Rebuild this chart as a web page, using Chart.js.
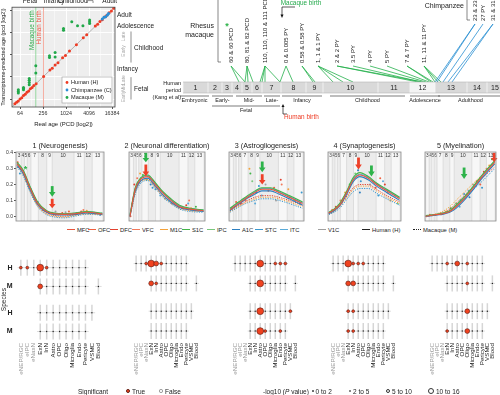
<!DOCTYPE html>
<html>
<head>
<meta charset="utf-8">
<title>Developmental age and trajectories</title>
<script src="https://cdn.jsdelivr.net/npm/chart.js@4.4.1/dist/chart.umd.min.js"></script>
<style>
  html, body { margin: 0; padding: 0; background: #fff; }
  body { position: relative; width: 500px; height: 395px; overflow: hidden; font-family: 'Liberation Sans', Arial, sans-serif; color: #222; }
  canvas { position: absolute; }
  .lbl { position: absolute; white-space: nowrap; line-height: 7px; }
  .key { position: absolute; height: 0; }
  .dot { position: absolute; border-radius: 50%; box-sizing: border-box; }
</style>
</head>
<body>
<script>
const FONT = "'Liberation Sans', Arial, sans-serif";
Chart.defaults.font.family = FONT;
Chart.defaults.color = '#222';
Chart.defaults.animation = false;
Chart.defaults.responsive = false;
Chart.defaults.plugins.legend.display = false;
Chart.defaults.plugins.tooltip.enabled = false;

// ---------- A: real age vs transcriptome-predicted age (log2 PCD)
const humanAge  = [5.55, 5.7, 5.85, 6.0, 6.15, 6.3, 6.45, 6.6, 6.75, 6.9, 7.05, 7.2, 7.4, 8.05, 8.6, 8.8, 9.05, 9.3, 9.7, 9.95, 10.3, 10.9, 11.5, 11.8, 12.55, 12.75, 12.95, 13.15, 13.35, 13.55, 13.75, 13.95, 14.15];
const humanPred = [5.6, 5.72, 5.83, 6.02, 6.14, 6.33, 6.44, 6.62, 6.74, 6.93, 7.04, 7.22, 7.38, 8.04, 8.62, 8.78, 9.07, 9.28, 9.72, 9.93, 10.32, 10.88, 11.52, 11.78, 12.57, 12.73, 12.97, 13.13, 13.37, 13.53, 13.77, 13.93, 14.17];
const chimpAge  = [13.15, 13.3, 13.45, 13.6, 13.7];
const chimpPred = [13.2, 13.35, 13.4, 13.55, 13.7];
const macaqueAge  = [5.85, 5.85, 5.85, 6.3, 6.3, 6.3, 6.8, 6.8, 6.8, 6.8, 7.37, 7.37, 8.56, 8.56, 9.05, 9.05, 9.78, 9.78, 10.5, 11.0, 11.47, 12.05, 12.05, 12.05];
const macaquePred = [6.55, 6.7, 6.85, 6.85, 6.95, 7.05, 7.3, 7.5, 7.7, 7.85, 8.35, 9.0, 9.75, 9.9, 9.8, 10.2, 12.2, 12.35, 12.95, 12.6, 12.6, 12.8, 12.95, 13.1];
const ageTicks = [6, 7, 8, 9, 10, 11, 12, 13, 14];
const AGE_LO = 5.3, AGE_HI = 14.26;
const macaqueBirth = 7.37, humanBirth = 8.04;
const topStages = ['Fetal', 'Infancy', 'Childhood', 'Adult'];
const topStageAt = [6.87, 8.96, 10.6, 13.8];
const sideStages = ['Adult', 'Adolescence', 'Infancy'];
const sideStageAt = [13.56, 12.51, 8.68];
const bracketStages = ['Childhood', 'Fetal'];
const bracketAt = [10.59, 6.93];
const bracketSpan = [[9.29, 12.08], [5.97, 7.98]];
const subStages = ['Late', 'Early', 'Late', 'Mid', 'Early'];
const subStageAt = [11.64, 10.33, 7.72, 7.02, 6.24];

// ---------- B: sample timeline (units along the human period bar)
const periodEdges = [0, 25, 39, 49, 59, 69, 79, 98, 123, 140, 195, 227, 252, 284, 304, 320];
const stageNames = ['Embryonic', 'Early-', 'Mid-', 'Late-', 'Infancy', 'Childhood', 'Adolescence', 'Adulthood'];
const stageFrom  = [-3, 29, 53, 81, 99, 147, 227, 255];
const stageTo    = [26, 50, 79, 97, 139, 222, 257, 320];
const macaqueSamples = ['60 & 60 PCD', '80, 81 & 82 PCD', '110, 110, 110 & 111 PCD', '0 & 0.005 PY', '0.58 & 0.58 PY', '1, 1 & 1 PY', '2 & 2 PY', '3.5 PY', '4 PY', '5 PY', '7 & 7 PY', '11, 11 & 11 PY'];
const macaqueSampleAt = [48, 64, 82, 103, 119, 135, 154, 170, 187, 204, 224, 241];
const macaqueTargets = [[56, 62], [62, 65, 70], [77, 79, 82, 97], [97, 110], [130, 132], [150, 160, 170], [235, 240], [238], [243], [246], [248, 250], [252, 255, 258]];
const chimpSamples = ['23 & 23 PY', '27 PY', '31 & 31 PY'];
const chimpSampleAt = [292, 300, 310];
const chimpTargets = [[252, 254], [260], [265, 269]];

// ---------- C: trajectories of five processes (log2 PCD vs score)
const regionNames  = ['MFC', 'OFC', 'DFC', 'VFC', 'M1C', 'S1C', 'IPC', 'A1C', 'STC', 'ITC', 'V1C'];
const regionColors = ['#e8553c', '#f0603e', '#e2412f', '#f27a5c', '#f4a23a', '#43b549', '#79c77c', '#2c7fc0', '#3a98ce', '#5aaad8', '#a0a0a0'];
const periodBounds = [6.13, 6.51, 6.81, 7.06, 7.39, 8.06, 8.81, 9.30, 11.26, 12.18, 12.89, 13.86];
const periodNames = ['3', '4', '5', '6', '7', '8', '9', '10', '11', '12', '13'];
const ageGrid = [6.15, 6.7, 7.3, 8.0, 8.8, 9.5, 10.4, 11.3, 12.4, 13.8];
const panelTitles = ['1 (Neurogenesis)', '2 (Neuronal differentiation)', '3 (Astrogliogenesis)', '4 (Synaptogenesis)', '5 (Myelination)'];
const humanLineRegion = [0, 5, 7, 9];
const macaqueLineRegion = [4, 2, 8];

const neuroH = [
  [0.33, 0.28, 0.18, 0.08, 0.03, 0.015, 0.012, 0.015, 0.025, 0.015],
  [0.34, 0.29, 0.19, 0.09, 0.035, 0.02, 0.016, 0.02, 0.03, 0.02],
  [0.32, 0.27, 0.17, 0.075, 0.025, 0.01, 0.008, 0.01, 0.02, 0.012],
  [0.335, 0.285, 0.185, 0.085, 0.032, 0.018, 0.014, 0.018, 0.028, 0.018]];
const neuroM = [
  [0.32, 0.26, 0.16, 0.065, 0.015, 0.0, -0.005, 0.005, 0.015, 0.01],
  [0.33, 0.27, 0.17, 0.07, 0.02, 0.005, 0.0, 0.01, 0.02, 0.012],
  [0.31, 0.255, 0.155, 0.06, 0.01, -0.005, -0.01, 0.0, 0.012, 0.008]];
const diffH = [
  [0.0, 0.17, 0.235, 0.25, 0.2, 0.15, 0.1, 0.06, 0.045, 0.035],
  [0.01, 0.18, 0.245, 0.26, 0.21, 0.16, 0.11, 0.07, 0.05, 0.04],
  [0.0, 0.16, 0.225, 0.24, 0.19, 0.14, 0.09, 0.055, 0.04, 0.03],
  [0.005, 0.175, 0.24, 0.255, 0.205, 0.155, 0.105, 0.065, 0.048, 0.038]];
const diffM = [
  [0.0, 0.15, 0.22, 0.23, 0.18, 0.13, 0.085, 0.05, 0.035, 0.03],
  [0.005, 0.16, 0.225, 0.235, 0.185, 0.135, 0.09, 0.055, 0.04, 0.032],
  [0.0, 0.14, 0.21, 0.225, 0.175, 0.125, 0.08, 0.045, 0.03, 0.025]];
const astroH = [
  [0.04, 0.065, 0.09, 0.12, 0.15, 0.17, 0.17, 0.15, 0.12, 0.08],
  [0.05, 0.075, 0.1, 0.13, 0.16, 0.18, 0.18, 0.16, 0.13, 0.09],
  [0.035, 0.06, 0.085, 0.115, 0.14, 0.16, 0.16, 0.14, 0.11, 0.07],
  [0.045, 0.07, 0.095, 0.125, 0.155, 0.175, 0.175, 0.155, 0.125, 0.085]];
const astroM = [
  [0.03, 0.05, 0.07, 0.09, 0.11, 0.12, 0.12, 0.11, 0.09, 0.06],
  [0.035, 0.055, 0.075, 0.1, 0.12, 0.13, 0.13, 0.12, 0.1, 0.07],
  [0.025, 0.045, 0.065, 0.085, 0.1, 0.11, 0.11, 0.1, 0.08, 0.05]];
const synH = [
  [0.02, 0.04, 0.07, 0.14, 0.23, 0.26, 0.24, 0.2, 0.16, 0.11],
  [0.025, 0.045, 0.08, 0.15, 0.245, 0.275, 0.25, 0.21, 0.17, 0.12],
  [0.015, 0.035, 0.065, 0.13, 0.22, 0.25, 0.23, 0.19, 0.15, 0.1],
  [0.02, 0.04, 0.075, 0.145, 0.235, 0.265, 0.245, 0.205, 0.165, 0.115]];
const synM = [
  [0.015, 0.03, 0.06, 0.11, 0.17, 0.19, 0.19, 0.16, 0.12, 0.08],
  [0.02, 0.035, 0.065, 0.12, 0.18, 0.2, 0.2, 0.17, 0.13, 0.09],
  [0.01, 0.025, 0.05, 0.1, 0.155, 0.175, 0.175, 0.145, 0.11, 0.07]];
const myelH = [
  [0.0, 0.005, 0.01, 0.015, 0.03, 0.06, 0.11, 0.17, 0.25, 0.34],
  [0.005, 0.008, 0.012, 0.02, 0.035, 0.07, 0.12, 0.18, 0.26, 0.35],
  [0.0, 0.003, 0.008, 0.012, 0.025, 0.05, 0.1, 0.16, 0.24, 0.33],
  [0.002, 0.006, 0.01, 0.018, 0.032, 0.065, 0.115, 0.175, 0.255, 0.345]];
const myelM = [
  [0.0, 0.005, 0.015, 0.03, 0.06, 0.1, 0.15, 0.2, 0.26, 0.33],
  [0.0, 0.004, 0.01, 0.02, 0.045, 0.08, 0.13, 0.18, 0.24, 0.31],
  [0.0, 0.003, 0.008, 0.015, 0.035, 0.07, 0.11, 0.16, 0.22, 0.3]];

const neuroPts = [[6.2, 0.34], [6.3, 0.31], [6.5, 0.3], [6.8, 0.26], [7.0, 0.22], [7.2, 0.2], [7.6, 0.12], [8.0, 0.09], [8.5, 0.04], [9.0, 0.02], [9.6, 0.03], [10.2, 0.02], [10.8, 0.03], [11.5, 0.02], [12.1, 0.04], [12.4, 0.035], [12.6, 0.02], [13.2, 0.02], [13.6, 0.01], [6.4, 0.27], [7.4, 0.17], [10.5, 0.025], [11.9, 0.03]];
const diffPts = [[6.2, 0.0], [6.4, 0.08], [6.6, 0.2], [6.9, 0.24], [7.2, 0.27], [7.5, 0.26], [7.9, 0.23], [8.3, 0.2], [8.8, 0.17], [9.3, 0.13], [9.8, 0.11], [10.5, 0.08], [11.2, 0.06], [12.0, 0.07], [12.3, 0.1], [12.5, 0.05], [13.0, 0.06], [13.5, 0.04], [7.0, 0.21], [8.5, 0.18], [12.2, 0.08]];
const astroPts = [[6.3, 0.05], [6.8, 0.09], [7.3, 0.08], [7.8, 0.1], [8.2, 0.3], [8.3, 0.27], [8.5, 0.22], [8.9, 0.15], [9.2, 0.19], [9.5, 0.13], [9.9, 0.2], [10.2, 0.16], [10.8, 0.18], [11.5, 0.23], [11.6, 0.2], [12.3, 0.17], [12.5, 0.12], [13.0, 0.1], [13.5, 0.08], [13.7, 0.15], [8.8, 0.08], [11.0, 0.1]];
const synPts = [[6.2, 0.02], [6.5, 0.04], [6.9, 0.06], [7.4, 0.1], [7.9, 0.15], [8.4, 0.2], [9.0, 0.27], [9.3, 0.29], [9.6, 0.22], [10.3, 0.25], [10.6, 0.2], [11.2, 0.18], [11.7, 0.24], [12.2, 0.2], [12.5, 0.15], [12.8, 0.1], [13.3, 0.13], [13.6, 0.08], [9.5, 0.15], [11.5, 0.13], [12.0, 0.22]];
const myelPts = [[6.2, 0.0], [6.6, 0.01], [7.2, 0.01], [7.8, 0.02], [8.4, 0.03], [8.9, 0.05], [9.5, 0.08], [10.0, 0.1], [10.4, 0.14], [10.9, 0.16], [11.4, 0.2], [11.8, 0.22], [12.2, 0.2], [12.6, 0.28], [12.9, 0.3], [13.2, 0.32], [13.5, 0.36], [13.8, 0.38], [11.0, 0.12], [12.4, 0.18], [9.9, 0.06]];

const greenArrowAge = [9.3, 7.8, 9.55, 10.75, 10.4];
const greenArrowTop = [0.19, 0.40, 0.345, 0.32, 0.307];
const greenArrowTip = [0.123, 0.34, 0.277, 0.25, 0.234];
const redArrowAge = [9.3, 7.8, 9.55, 9.35, 13.75];
const redArrowTop = [0.11, 0.326, 0.265, 0.37, 0.40];
const redArrowTip = [0.05, 0.25, 0.2, 0.295, 0.34];

// ---------- D: cell-type enrichment (-log10 P), rows H, M (upper) and H, M (lower)
const cellTypes = ['eNEP/RGC', 'eIPC', 'eNasN', 'ExN', 'InN', 'Astro', 'OPC', 'Oligo', 'Microglia', 'Endo', 'Pericyte', 'VSMC', 'Blood'];
const rowSpecies = ['H', 'M', 'H', 'M'];
const rowY = [0, 1, 2.4, 3.4];
const N = null;
const enrich1 = [
  [3, 3, 1, 12, 3, 1, 1, 1, 1, 1, 1, N, N],
  [N, N, N, 8, 1, 1, 1, 1, 1, 1, 1, N, 1],
  [N, N, N, 1, 1, 1, 1, 1, 1, 1, 1, 1, N],
  [N, N, N, 1, 1, 1, 1, 1, 1, 1, 1, N, N]];
const enrich2 = [
  [1, 1, 3, 12, 7, 3, 1, 1, 1, 1, 1, N, N],
  [N, N, N, 7, 3, 1, 1, 1, 1, 1, 1, N, 1],
  [N, N, N, 1, 1, 1, 1, 1, 1, 1, 1, 1, N],
  [N, N, N, 1, 1, 1, 1, 1, 1, 1, 1, N, N]];
const enrich3 = [
  [1, 1, 1, 1, 1, 12, 1, 1, 3, 3, 3, N, N],
  [N, N, N, 1, 1, 12, 1, 1, 1, 1, 1, N, 1],
  [N, N, N, 1, 1, 12, 1, 1, 1, 1, 1, 3, N],
  [N, N, N, 1, 1, 12, 3, 1, 1, 3, 1, N, N]];
const enrich4 = [
  [1, 1, 1, 12, 3, 3, 3, 1, 1, 1, 1, N, N],
  [N, N, N, 7, 7, 1, 1, 1, 1, 1, 1, N, 1],
  [N, N, N, 3, 3, 1, 1, 1, 1, 1, 1, 1, N],
  [N, N, N, 3, 3, 1, 1, 1, 1, 1, 1, N, N]];
const enrich5 = [
  [1, 1, 1, 3, 1, 7, 1, 3, 1, 1, 1, N, N],
  [N, N, N, 1, 1, 1, 1, 3, 1, 1, 1, N, 1],
  [N, N, N, 1, 1, 1, 1, 7, 1, 1, 1, 1, N],
  [N, N, N, 3, 1, 1, 1, 7, 1, 1, 1, N, N]];

// ---------- helpers
function addCanvas(left, top, w, h) {
  const c = document.createElement('canvas');
  c.width = Math.round(w); c.height = Math.round(h);
  Object.assign(c.style, { left: left + 'px', top: top + 'px', width: Math.round(w) + 'px', height: Math.round(h) + 'px' });
  document.body.appendChild(c);
  return c;
}
function addLabel(html, left, midY, size, extra) {
  const d = document.createElement('div');
  d.className = 'lbl';
  d.innerHTML = html;
  Object.assign(d.style, { left: left + 'px', top: (midY - 3.5) + 'px', fontSize: size + 'px' }, extra || {});
  document.body.appendChild(d);
}
function vText(ctx, s, x, y, align, baseline) {
  ctx.save();
  ctx.translate(x, y);
  ctx.rotate(-Math.PI / 2);
  ctx.textAlign = align;
  ctx.textBaseline = baseline;
  ctx.fillText(s, 0, 0);
  ctx.restore();
}
const pairs = (xs, ys) => xs.map((x, i) => ({ x, y: ys[i] }));

// ---------- A chart
const ageAnnotations = {
  id: 'ageAnnotations',
  beforeDraw(chart) {
    const { ctx, chartArea: a } = chart;
    ctx.save();
    ctx.fillStyle = '#eeeeee';
    ctx.fillRect(a.left, a.top, a.width, a.height);
    ctx.restore();
  },
  beforeDatasetsDraw(chart) {
    const { ctx, chartArea: a, scales: { x } } = chart;
    ctx.save();
    ctx.lineWidth = 0.8;
    [[macaqueBirth, '#7fd08a'], [humanBirth, '#f39a8c']].forEach(([v, c]) => {
      ctx.strokeStyle = c;
      ctx.beginPath(); ctx.moveTo(x.getPixelForValue(v), a.top); ctx.lineTo(x.getPixelForValue(v), a.bottom); ctx.stroke();
    });
    ctx.font = `6.3px ${FONT}`;
    ctx.fillStyle = '#2eaa4a';
    vText(ctx, 'Macaque birth', x.getPixelForValue(macaqueBirth) - 0.6, a.top + 3, 'right', 'bottom');
    ctx.fillStyle = '#ee5a4a';
    vText(ctx, 'Human birth', x.getPixelForValue(humanBirth) - 0.6, a.top + 3, 'right', 'bottom');
    ctx.restore();
  },
  afterDatasetsDraw(chart) {
    const { ctx, chartArea: a, scales: { x, y } } = chart;
    ctx.save();
    ctx.strokeStyle = '#444';
    ctx.lineWidth = 0.8;
    ctx.strokeRect(a.left, a.top, a.width, a.height);
    // stage labels across the top (mostly cropped)
    ctx.fillStyle = '#222';
    ctx.font = `6.5px ${FONT}`;
    ctx.textAlign = 'center';
    ctx.textBaseline = 'alphabetic';
    topStages.forEach((s, i) => ctx.fillText(s, x.getPixelForValue(topStageAt[i]), 2.7));
    ctx.lineWidth = 0.6;
    ctx.beginPath();
    ctx.moveTo(x.getPixelForValue(11.85), 3); ctx.lineTo(x.getPixelForValue(11.85), 0.6);
    ctx.lineTo(x.getPixelForValue(12.35), 0.6); ctx.lineTo(x.getPixelForValue(12.35), 3);
    ctx.stroke();
    // stage labels on the right
    ctx.textAlign = 'left';
    ctx.textBaseline = 'middle';
    sideStages.forEach((s, i) => ctx.fillText(s, a.right + 2, y.getPixelForValue(sideStageAt[i])));
    bracketStages.forEach((s, i) => {
      ctx.fillText(s, a.right + 19, y.getPixelForValue(bracketAt[i]));
      ctx.beginPath();
      ctx.moveTo(a.right + 16, y.getPixelForValue(bracketSpan[i][0]));
      ctx.lineTo(a.right + 16, y.getPixelForValue(bracketSpan[i][1]));
      ctx.stroke();
    });
    ctx.fillStyle = '#a8a8a8';
    ctx.font = `5px ${FONT}`;
    subStages.forEach((s, i) => vText(ctx, s, a.right + 9, y.getPixelForValue(subStageAt[i]), 'center', 'middle'));
    // legend box
    const bx = a.right - 53, by = a.bottom - 30;
    ctx.fillStyle = '#fff';
    ctx.fillRect(bx, by, 50, 26);
    ctx.strokeStyle = '#9a9a9a';
    ctx.strokeRect(bx, by, 50, 26);
    ctx.font = `5.6px ${FONT}`;
    [['Human (H)', '#ee3b24'], ['Chimpanzee (C)', '#2b8fd6'], ['Macaque (M)', '#22a84a']].forEach(([t, c], i) => {
      ctx.fillStyle = c;
      ctx.beginPath(); ctx.arc(bx + 5, by + 5.5 + i * 7.5, 1.4, 0, Math.PI * 2); ctx.fill();
      ctx.fillStyle = '#222';
      ctx.fillText(t, bx + 9, by + 5.5 + i * 7.5);
    });
    ctx.restore();
  }
};

new Chart(addCanvas(0, 0, 165, 128), {
  type: 'scatter',
  data: {
    datasets: [
      { type: 'line', data: [{ x: AGE_LO, y: AGE_LO }, { x: AGE_HI, y: AGE_HI }], borderColor: '#9a9a9a', borderWidth: 0.7, pointRadius: 0, order: 10 },
      { data: pairs(macaqueAge, macaquePred), backgroundColor: '#22a84a', pointRadius: 1.5, borderWidth: 0, order: 3 },
      { data: pairs(humanAge, humanPred), backgroundColor: '#ee3b24', pointRadius: 1.5, borderWidth: 0, order: 2 },
      { data: pairs(chimpAge, chimpPred), backgroundColor: '#2b8fd6', pointRadius: 1.5, borderWidth: 0, order: 1 }
    ]
  },
  options: {
    layout: { padding: { top: 5, right: 50, left: 0, bottom: 0 } },
    scales: {
      x: {
        type: 'linear', min: AGE_LO, max: AGE_HI,
        afterBuildTicks: s => { s.ticks = ageTicks.map(v => ({ value: v })); },
        ticks: { autoSkip: false, maxRotation: 0, callback: v => (v % 2 === 0 ? String(2 ** v) : ''), font: { size: 5.3 }, color: '#333', padding: 1 },
        grid: { color: '#ffffff', lineWidth: c => (c.tick && c.tick.value % 2 === 0 ? 0.9 : 0.45), tickLength: 2, tickColor: c => (c.tick && c.tick.value % 2 === 0 ? '#444' : 'rgba(0,0,0,0)') },
        border: { display: false },
        title: { display: true, text: 'Real age (PCD [log2])', font: { size: 6 }, padding: { top: 1, bottom: 0 }, color: '#222' },
        afterFit: s => { s.height = 21; }
      },
      y: {
        type: 'linear', min: AGE_LO, max: AGE_HI,
        afterBuildTicks: s => { s.ticks = ageTicks.map(v => ({ value: v })); },
        ticks: { callback: () => '', padding: 0 },
        grid: { color: '#ffffff', lineWidth: c => (c.tick && c.tick.value % 2 === 0 ? 0.9 : 0.45), tickLength: 2, tickColor: c => (c.tick && c.tick.value % 2 === 0 ? '#444' : 'rgba(0,0,0,0)') },
        border: { display: false },
        title: { display: true, text: 'Transcriptome-predicted age (pcd [log2])', font: { size: 5.4 }, padding: 0, color: '#222' },
        afterFit: s => { s.width = 12; }
      }
    }
  },
  plugins: [ageAnnotations]
});

// ---------- B chart: sample matching onto the human period bar
const BAR_TOP = 82, BAR_BOTTOM = 93;
const timelinePlugin = {
  id: 'timeline',
  afterDraw(chart) {
    const { ctx, scales: { x, y } } = chart;
    const X = v => x.getPixelForValue(v);
    const Y = v => y.getPixelForValue(v);
    ctx.save();
    // connectors
    ctx.lineWidth = 0.8;
    ctx.strokeStyle = '#25b04b';
    macaqueSampleAt.forEach((p, i) => macaqueTargets[i].forEach(t => {
      ctx.beginPath(); ctx.moveTo(X(p), Y(66)); ctx.lineTo(X(t), Y(BAR_TOP)); ctx.stroke();
    }));
    ctx.strokeStyle = '#2a8fd2';
    chimpSampleAt.forEach((p, i) => chimpTargets[i].forEach(t => {
      ctx.beginPath(); ctx.moveTo(X(p), Y(24)); ctx.lineTo(X(t), Y(BAR_TOP)); ctx.stroke();
    }));
    // period bar
    for (let i = 0; i < periodEdges.length - 1; i++) {
      const x0 = X(periodEdges[i]), x1 = X(periodEdges[i + 1]);
      ctx.fillStyle = i === 11 ? '#f4f4f4' : '#d9d9d9';
      ctx.fillRect(x0, Y(BAR_TOP), x1 - x0, Y(BAR_BOTTOM) - Y(BAR_TOP));
      ctx.strokeStyle = '#f7f7f7';
      ctx.beginPath(); ctx.moveTo(x0, Y(BAR_TOP)); ctx.lineTo(x0, Y(BAR_BOTTOM)); ctx.stroke();
      ctx.fillStyle = '#222';
      ctx.font = `7px ${FONT}`;
      ctx.textAlign = 'center';
      ctx.textBaseline = 'middle';
      ctx.fillText(String(i + 1), (x0 + x1) / 2, Y((BAR_TOP + BAR_BOTTOM) / 2) + 0.5);
    }
    ctx.strokeStyle = '#b5b5b5';
    ctx.lineWidth = 0.6;
    ctx.beginPath();
    ctx.moveTo(X(periodEdges[0]), Y(BAR_TOP)); ctx.lineTo(X(periodEdges[periodEdges.length - 1]), Y(BAR_TOP));
    ctx.moveTo(X(periodEdges[0]), Y(BAR_BOTTOM)); ctx.lineTo(X(periodEdges[periodEdges.length - 1]), Y(BAR_BOTTOM));
    ctx.stroke();
    // stage bars under the bar
    ctx.strokeStyle = '#444';
    ctx.lineWidth = 0.7;
    ctx.font = `5.5px ${FONT}`;
    ctx.fillStyle = '#222';
    stageNames.forEach((s, i) => {
      ctx.beginPath(); ctx.moveTo(X(stageFrom[i]), Y(96)); ctx.lineTo(X(stageTo[i]), Y(96)); ctx.stroke();
      ctx.fillText(s, (X(stageFrom[i]) + X(stageTo[i])) / 2, Y(100.5));
    });
    ctx.beginPath(); ctx.moveTo(X(29), Y(106)); ctx.lineTo(X(97), Y(106)); ctx.stroke();
    ctx.fillText('Fetal', X(63), Y(110.5));
    // human period caption
    ctx.textAlign = 'right';
    ['Human', 'period', '(Kang et al)'].forEach((t, i) => ctx.fillText(t, X(-2), Y(83 + i * 7)));
    // human birth
    ctx.strokeStyle = '#111';
    ctx.fillStyle = '#111';
    ctx.lineWidth = 0.7;
    ctx.beginPath(); ctx.moveTo(X(104), Y(114)); ctx.lineTo(X(100), Y(114)); ctx.lineTo(X(100), Y(106)); ctx.stroke();
    ctx.beginPath(); ctx.moveTo(X(98.5), Y(107)); ctx.lineTo(X(101.5), Y(107)); ctx.lineTo(X(100), Y(104)); ctx.fill();
    ctx.font = `6.4px ${FONT}`;
    ctx.textAlign = 'left';
    ctx.fillStyle = '#ee3b24';
    ctx.fillText('Human birth', X(101), Y(117.5));
    // macaque birth
    ctx.beginPath(); ctx.moveTo(X(112), Y(7)); ctx.lineTo(X(99), Y(7)); ctx.lineTo(X(99), Y(15)); ctx.stroke();
    ctx.fillStyle = '#111';
    ctx.beginPath(); ctx.moveTo(X(97.5), Y(14.5)); ctx.lineTo(X(100.5), Y(14.5)); ctx.lineTo(X(99), Y(18)); ctx.fill();
    ctx.fillStyle = '#22a84a';
    ctx.textAlign = 'center';
    ctx.fillText('Macaque birth', X(118), Y(3));
    // rhesus macaque block
    ctx.fillStyle = '#222';
    ctx.font = `7px ${FONT}`;
    ctx.textAlign = 'right';
    ctx.fillText('Rhesus', X(31), Y(26.5));
    ctx.fillText('macaque', X(31), Y(35));
    ctx.strokeStyle = '#555';
    ctx.beginPath(); ctx.moveTo(X(35), Y(-1)); ctx.lineTo(X(35), Y(62)); ctx.lineTo(X(38), Y(62)); ctx.stroke();
    ctx.fillStyle = '#2db34a';
    ctx.font = `bold 9px ${FONT}`;
    ctx.textAlign = 'center';
    ctx.fillText('*', X(44), Y(27));
    ctx.fillStyle = '#222';
    ctx.font = `6px ${FONT}`;
    macaqueSamples.forEach((s, i) => vText(ctx, s, X(macaqueSampleAt[i]), Y(63), 'left', 'middle'));
    // chimpanzee block
    ctx.font = `7px ${FONT}`;
    ctx.textAlign = 'right';
    ctx.textBaseline = 'middle';
    ctx.fillText('Chimpanzee', X(281), Y(6));
    ctx.beginPath(); ctx.moveTo(X(284), Y(-1)); ctx.lineTo(X(284), Y(20)); ctx.lineTo(X(287), Y(20)); ctx.stroke();
    ctx.font = `6px ${FONT}`;
    chimpSamples.forEach((s, i) => vText(ctx, s, X(chimpSampleAt[i]), Y(21), 'left', 'middle'));
    ctx.restore();
  }
};
new Chart(addCanvas(145, 0, 355, 125), {
  type: 'scatter',
  data: { datasets: [] },
  options: {
    layout: { padding: 0 },
    scales: {
      x: { type: 'linear', min: -38, max: 317, display: false },
      y: { type: 'linear', min: 0, max: 125, reverse: true, display: false }
    }
  },
  plugins: [timelinePlugin]
});

// ---------- C charts: trajectories
const AGE_MIN = 6.05, AGE_MAX = 13.95;
const trajLeft = [16, 113, 212.7, 311.7, 409];
const trajRight = [107, 207.5, 306.7, 404, 499];
const trajHuman = [neuroH, diffH, astroH, synH, myelH];
const trajMacaque = [neuroM, diffM, astroM, synM, myelM];
const trajPoints = [neuroPts, diffPts, astroPts, synPts, myelPts];

function drawArrow(ctx, x, yTop, yTip, color) {
  const headH = Math.min(5, (yTip - yTop) * 0.45);
  ctx.fillStyle = color;
  ctx.fillRect(x - 1.4, yTop, 2.8, yTip - yTop - headH + 0.5);
  ctx.beginPath();
  ctx.moveTo(x - 3.3, yTip - headH); ctx.lineTo(x + 3.3, yTip - headH); ctx.lineTo(x, yTip);
  ctx.closePath(); ctx.fill();
}

const trajectoryFrame = {
  id: 'trajectoryFrame',
  beforeDatasetsDraw(chart) {
    const { ctx, chartArea: a, scales: { x } } = chart;
    ctx.save();
    ctx.fillStyle = '#f7f7f7';
    ctx.fillRect(a.left, a.top, a.width, a.height);
    ctx.font = `4.8px ${FONT}`;
    ctx.textAlign = 'center';
    ctx.textBaseline = 'middle';
    for (let i = 0; i < periodBounds.length - 1; i++) {
      const x0 = x.getPixelForValue(periodBounds[i]), x1 = x.getPixelForValue(periodBounds[i + 1]);
      if (i % 2 === 1) { ctx.fillStyle = '#ececec'; ctx.fillRect(x0, a.top, x1 - x0, a.height); }
      ctx.fillStyle = '#333';
      ctx.fillText(periodNames[i], (x0 + x1) / 2, a.top + 4);
    }
    ctx.strokeStyle = '#d0d0d0';
    ctx.lineWidth = 0.6;
    periodBounds.forEach(v => {
      const px = x.getPixelForValue(v);
      ctx.beginPath(); ctx.moveTo(px, a.top); ctx.lineTo(px, a.bottom); ctx.stroke();
    });
    ctx.restore();
  },
  afterDatasetsDraw(chart, args, opts) {
    const { ctx, chartArea: a, scales: { x, y } } = chart;
    const k = opts.panel;
    ctx.save();
    drawArrow(ctx, x.getPixelForValue(greenArrowAge[k]), y.getPixelForValue(greenArrowTop[k]), y.getPixelForValue(greenArrowTip[k]), '#2db34a');
    drawArrow(ctx, x.getPixelForValue(redArrowAge[k]), y.getPixelForValue(redArrowTop[k]), y.getPixelForValue(redArrowTip[k]), '#ee4028');
    if (k === 0) {
      ctx.fillStyle = '#2db34a';
      ctx.font = `bold 9px ${FONT}`;
      ctx.textAlign = 'center';
      ctx.textBaseline = 'middle';
      ctx.fillText('*', x.getPixelForValue(6.9), y.getPixelForValue(0.31) + 2);
    }
    ctx.strokeStyle = '#8a8a8a';
    ctx.lineWidth = 0.8;
    ctx.strokeRect(a.left, a.top, a.width, a.height);
    ctx.fillStyle = '#222';
    ctx.font = `7.2px ${FONT}`;
    ctx.textAlign = 'center';
    ctx.textBaseline = 'middle';
    ctx.fillText(panelTitles[k], (a.left + a.right) / 2, a.top - 6);
    ctx.restore();
  }
};

function trajectoryPanel(k) {
  const showY = k === 0;
  const padL = showY ? 0 : 1;
  const canvasLeft = showY ? 0 : trajLeft[k] - 1;
  const width = trajRight[k] - canvasLeft + 1;
  const datasets = [];
  trajHuman[k].forEach((vals, j) => datasets.push({
    type: 'line', data: pairs(ageGrid, vals), borderColor: regionColors[humanLineRegion[j]],
    borderWidth: 1.1, pointRadius: 0, cubicInterpolationMode: 'monotone', order: 1
  }));
  trajMacaque[k].forEach((vals, j) => datasets.push({
    type: 'line', data: pairs(ageGrid, vals), borderColor: regionColors[macaqueLineRegion[j]],
    borderWidth: 1, borderDash: [1.2, 1.2], pointRadius: 0, cubicInterpolationMode: 'monotone', order: 2
  }));
  datasets.push({
    data: trajPoints[k].map(p => ({ x: p[0], y: p[1] })),
    backgroundColor: c => regionColors[c.dataIndex % regionColors.length],
    pointRadius: 1, borderWidth: 0, order: 20
  });
  new Chart(addCanvas(canvasLeft, 138, width, 87), {
    type: 'scatter',
    data: { datasets },
    options: {
      layout: { padding: { top: 14, bottom: 2, left: padL, right: 1 } },
      plugins: { trajectoryFrame: { panel: k } },
      scales: {
        x: { type: 'linear', min: AGE_MIN, max: AGE_MAX, display: false },
        y: {
          type: 'linear', min: -0.03, max: 0.405, display: showY,
          afterBuildTicks: s => { s.ticks = [0, 0.1, 0.2, 0.3, 0.4].map(v => ({ value: v })); },
          ticks: { callback: v => v.toFixed(1), font: { size: 5 }, padding: 1, color: '#333' },
          grid: { drawOnChartArea: false, tickLength: 2, color: '#555' },
          border: { display: false },
          afterFit: s => { s.width = 16; }
        }
      }
    },
    plugins: [trajectoryFrame]
  });
}
for (let k = 0; k < 5; k++) trajectoryPanel(k);

// legend for the trajectories (HTML text)
const legendLineX = [67, 88, 110, 132, 160, 182, 207, 232, 255, 280, 318];
regionNames.forEach((r, i) => {
  const key = document.createElement('div');
  key.className = 'key';
  Object.assign(key.style, { left: legendLineX[i] + 'px', top: '229.3px', width: '8px', borderTop: `1.6px solid ${regionColors[i]}` });
  document.body.appendChild(key);
  addLabel(r, legendLineX[i] + 10, 230, 5.8);
});
[['Human (H)', 362, 'solid'], ['Macaque (M)', 413, 'dotted']].forEach(([t, lx, style]) => {
  const key = document.createElement('div');
  key.className = 'key';
  Object.assign(key.style, { left: lx + 'px', top: '229.3px', width: '8px', borderTop: `1.6px ${style} #222` });
  document.body.appendChild(key);
  addLabel(t, lx + 10, 230, 5.8);
});

// ---------- D charts: enrichment dot plots
const DOT_STEP = 6.8, DOT_W = 13 * 6.8;
const dotLeft = [17.6, 116.2, 214.6, 313.1, 411.6];
const enrichPanels = [enrich1, enrich2, enrich3, enrich4, enrich5];
const radiusFor = v => (v >= 10 ? 3.4 : v >= 5 ? 2.4 : v >= 2 ? 1.4 : 0.7);

const dotGrid = {
  id: 'dotGrid',
  beforeDatasetsDraw(chart, args, opts) {
    const { ctx, scales: { x, y } } = chart;
    const rows = enrichPanels[opts.panel];
    ctx.save();
    rows.forEach((row, r) => {
      const py = y.getPixelForValue(rowY[r]);
      row.forEach((v, c) => {
        if (v === null) return;
        const px = x.getPixelForValue(c);
        ctx.strokeStyle = '#d6d6d6';
        ctx.lineWidth = 1.5;
        ctx.beginPath(); ctx.moveTo(px, py - 8); ctx.lineTo(px, py + 8); ctx.stroke();
        ctx.strokeStyle = '#c4c4c4';
        ctx.lineWidth = 0.6;
        ctx.beginPath(); ctx.moveTo(x.getPixelForValue(c - 0.5), py); ctx.lineTo(x.getPixelForValue(c + 0.5), py); ctx.stroke();
      });
    });
    ctx.restore();
  }
};

function dotPanel(k) {
  const showY = k === 0;
  const rows = enrichPanels[k];
  const sig = [], ns = [];
  rows.forEach((row, r) => row.forEach((v, c) => {
    if (v === null) return;
    (v >= 2 ? sig : ns).push({ x: c, y: rowY[r], v });
  }));
  const canvasLeft = showY ? 0 : dotLeft[k] - 3;
  const width = showY ? dotLeft[k] + DOT_W + 3 : DOT_W + 6;
  new Chart(addCanvas(canvasLeft, 250, width, 140), {
    type: 'scatter',
    data: {
      datasets: [
        { data: sig, backgroundColor: '#f0421f', borderColor: '#5a1a10', borderWidth: 0.6, pointRadius: c => radiusFor(c.raw.v), order: 1 },
        { data: ns, backgroundColor: '#222', borderWidth: 0, pointRadius: c => radiusFor(c.raw.v), order: 2 }
      ]
    },
    options: {
      layout: { padding: { left: showY ? 0 : 3, right: 3, top: 4, bottom: 0 } },
      plugins: { dotGrid: { panel: k } },
      scales: {
        x: {
          type: 'linear', min: -0.5, max: 12.5,
          afterBuildTicks: s => { s.ticks = cellTypes.map((_, i) => ({ value: i })); },
          ticks: { autoSkip: false, minRotation: 90, maxRotation: 90, font: { size: 6.2 }, padding: 3,
                   color: c => (c.tick && c.tick.value < 3 ? '#9a9a9a' : '#222'), callback: v => cellTypes[v] },
          grid: { display: false, drawTicks: false },
          border: { display: false },
          afterFit: s => { s.height = 50; }
        },
        y: {
          type: 'linear', reverse: true, min: -0.45, max: 3.85, display: showY,
          afterBuildTicks: s => { s.ticks = rowY.map(v => ({ value: v })); },
          ticks: { callback: (v, i) => rowSpecies[i], font: { size: 7, weight: 'bold' }, padding: 5, color: '#222' },
          grid: { display: false, drawTicks: false },
          border: { display: false },
          title: { display: true, text: 'Species', font: { size: 6.5 }, padding: 0, color: '#222' },
          afterFit: s => { s.width = dotLeft[0]; }
        }
      }
    },
    plugins: [dotGrid]
  });
}
for (let k = 0; k < 5; k++) dotPanel(k);

// legend for the dot plots (HTML text)
function addDot(cx, cy, r, fill, stroke) {
  const d = document.createElement('div');
  d.className = 'dot';
  Object.assign(d.style, { left: (cx - r) + 'px', top: (cy - r) + 'px', width: (2 * r) + 'px', height: (2 * r) + 'px',
    background: fill, border: `0.7px solid ${stroke}` });
  document.body.appendChild(d);
}
addLabel('Significant', 78, 391, 6.5);
addDot(128, 391, 1.9, '#f0421f', '#5a1a10');
addLabel('True', 132, 391, 6.5);
addDot(161, 391, 1.7, '#fff', '#888');
addLabel('False', 165, 391, 6.5);
addLabel('-log10 (<i>P</i> value)', 263, 391, 6.5);
addDot(313, 391, 0.7, '#222', '#222');
addLabel('0 to 2', 315.5, 391, 6.5);
addDot(350, 391, 1.4, '#fff', '#333');
addLabel('2 to 5', 353, 391, 6.5);
addDot(388, 391, 2.4, '#fff', '#333');
addLabel('5 to 10', 392, 391, 6.5);
addDot(431, 391, 3.4, '#fff', '#333');
addLabel('10 to 16', 436, 391, 6.5);
</script>
</body>
</html>
